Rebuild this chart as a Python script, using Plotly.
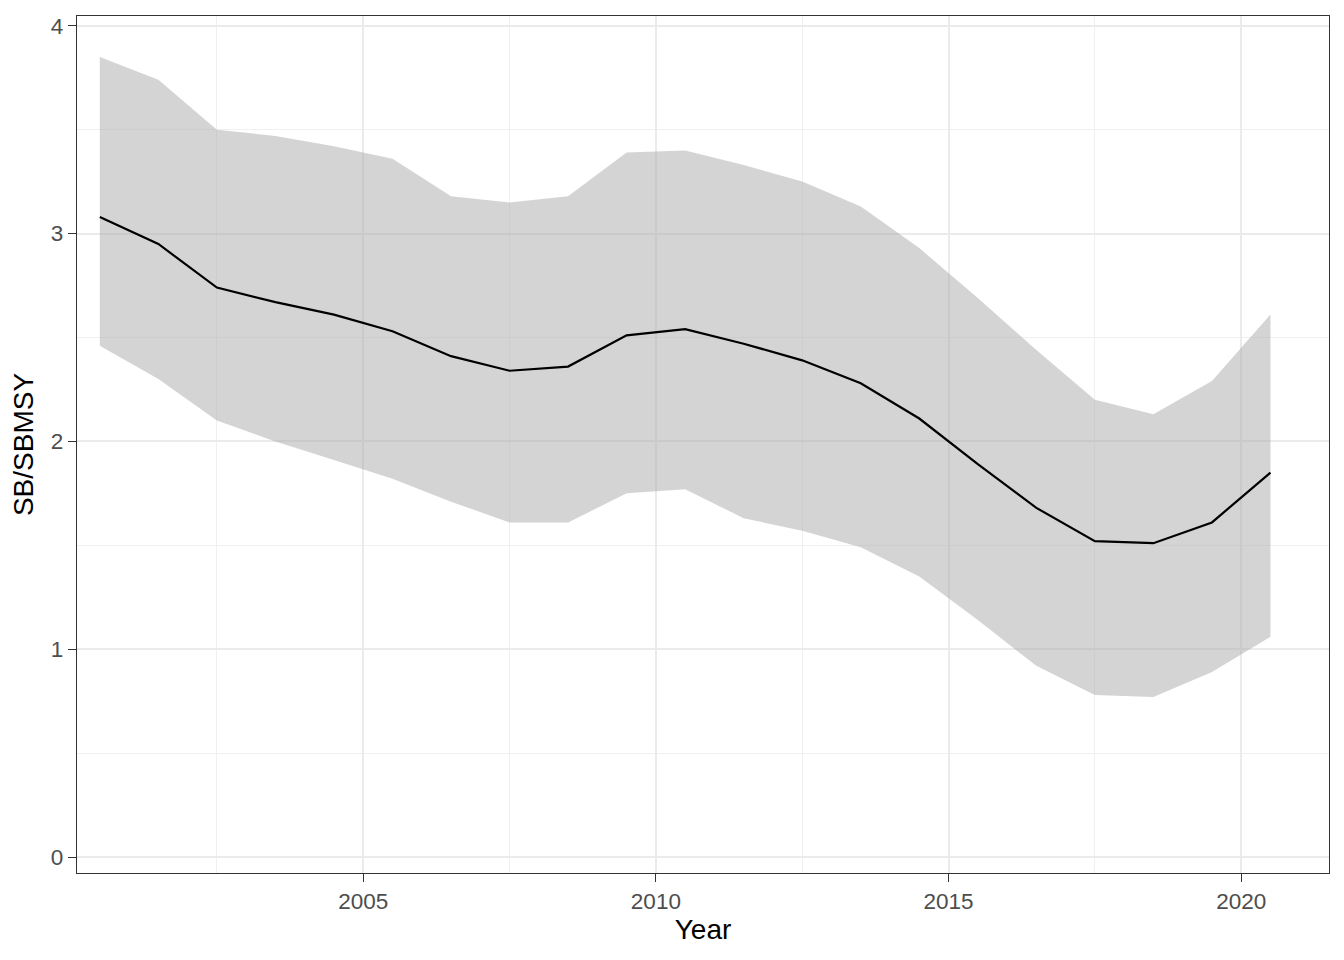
import plotly.graph_objects as go

# mid-year points
years = [2000.5, 2001.5, 2002.5, 2003.5, 2004.5, 2005.5, 2006.5, 2007.5, 2008.5, 2009.5, 2010.5,
         2011.5, 2012.5, 2013.5, 2014.5, 2015.5, 2016.5, 2017.5, 2018.5, 2019.5, 2020.5]
sb_med = [3.08, 2.95, 2.74, 2.67, 2.61, 2.53, 2.41, 2.34, 2.36, 2.51, 2.54,
          2.47, 2.39, 2.28, 2.11, 1.89, 1.68, 1.52, 1.51, 1.61, 1.85]
sb_upper = [3.85, 3.74, 3.50, 3.47, 3.42, 3.36, 3.18, 3.15, 3.18, 3.39, 3.40,
            3.33, 3.25, 3.13, 2.93, 2.69, 2.44, 2.20, 2.13, 2.29, 2.61]
sb_lower = [2.46, 2.30, 2.10, 2.00, 1.91, 1.82, 1.71, 1.61, 1.61, 1.75, 1.77,
            1.63, 1.57, 1.49, 1.35, 1.14, 0.92, 0.78, 0.77, 0.89, 1.06]

FONT = 'Liberation Sans, Arial'

fig = go.Figure()
fig.add_trace(go.Scatter(x=years, y=sb_upper, mode='lines', line=dict(width=0),
                         hoverinfo='skip', showlegend=False))
fig.add_trace(go.Scatter(x=years, y=sb_lower, mode='lines', line=dict(width=0),
                         fill='tonexty', fillcolor='rgba(170,170,170,0.5)',
                         hoverinfo='skip', showlegend=False))
fig.add_trace(go.Scatter(x=years, y=sb_med, mode='lines',
                         line=dict(color='black', width=2.2), showlegend=False))

axis_common = dict(
    showgrid=True, gridcolor='#EBEBEB', gridwidth=1.5,
    showline=True, mirror=True, linecolor='#333333', linewidth=1.4,
    ticks='outside', ticklen=8, tickwidth=1.4, tickcolor='#333333',
    tickfont=dict(family=FONT, size=22.5, color='#4D4D4D'),
    zeroline=False,
)

fig.update_xaxes(axis_common, range=[2000.11, 2021.5], tick0=2000, dtick=5,
                 minor=dict(tick0=2000, dtick=2.5, showgrid=True, gridcolor='#F0F0F0', gridwidth=0.8),
                 title=dict(text='Year', font=dict(family=FONT, size=28, color='black'),
                            standoff=6))
fig.update_yaxes(axis_common, range=[-0.077, 4.047], tick0=0, dtick=1,
                 minor=dict(tick0=0, dtick=0.5, showgrid=True, gridcolor='#F0F0F0', gridwidth=0.8),
                 title=dict(text='SB/SBMSY', font=dict(family=FONT, size=28, color='black'),
                            standoff=8))

# page body has an 8px margin, so the figure is shrunk and shifted to match
fig.update_layout(
    width=1328, height=944,
    margin=dict(l=69, r=7, t=6, b=79),
    plot_bgcolor='white', paper_bgcolor='white',
)

fig.write_html("out.html")
